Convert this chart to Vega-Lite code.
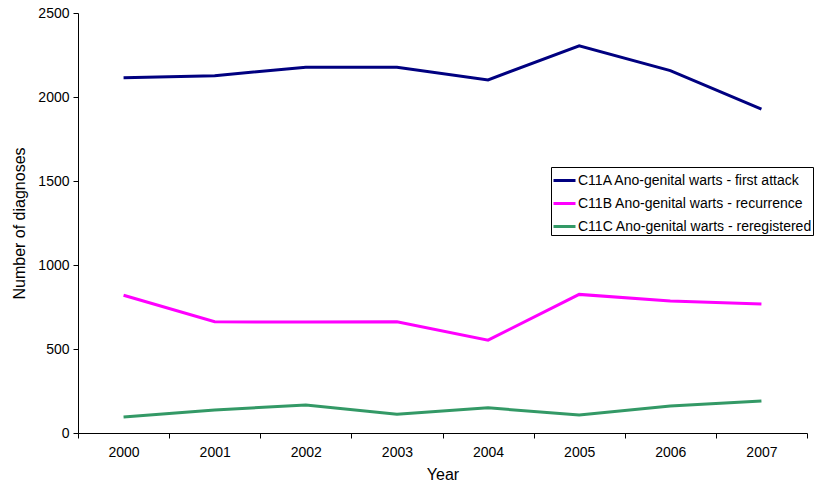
{
  "$schema": "https://vega.github.io/schema/vega-lite/v6.json",
  "width": 729,
  "height": 420,
  "autosize": "none",
  "padding": {"left": 78, "top": 13, "right": 10, "bottom": 53},
  "background": "white",
  "config": {
    "font": "Liberation Sans",
    "view": {"stroke": null},
    "axis": {"labelFont": "Liberation Sans", "titleFont": "Liberation Sans", "labelFontSize": 14, "titleFontSize": 16, "titleFontWeight": "normal", "labelColor": "#000", "titleColor": "#000", "domainColor": "#000", "tickColor": "#000", "grid": false, "tickSize": 5}
  },
  "data": {"values": [
    {"year": "2000", "series": "C11A Ano-genital warts - first attack", "value": 2115},
    {"year": "2001", "series": "C11A Ano-genital warts - first attack", "value": 2127},
    {"year": "2002", "series": "C11A Ano-genital warts - first attack", "value": 2177},
    {"year": "2003", "series": "C11A Ano-genital warts - first attack", "value": 2177},
    {"year": "2004", "series": "C11A Ano-genital warts - first attack", "value": 2102},
    {"year": "2005", "series": "C11A Ano-genital warts - first attack", "value": 2305},
    {"year": "2006", "series": "C11A Ano-genital warts - first attack", "value": 2157},
    {"year": "2007", "series": "C11A Ano-genital warts - first attack", "value": 1928},
    {"year": "2000", "series": "C11B Ano-genital warts - recurrence", "value": 820},
    {"year": "2001", "series": "C11B Ano-genital warts - recurrence", "value": 662},
    {"year": "2002", "series": "C11B Ano-genital warts - recurrence", "value": 660},
    {"year": "2003", "series": "C11B Ano-genital warts - recurrence", "value": 662},
    {"year": "2004", "series": "C11B Ano-genital warts - recurrence", "value": 553},
    {"year": "2005", "series": "C11B Ano-genital warts - recurrence", "value": 825},
    {"year": "2006", "series": "C11B Ano-genital warts - recurrence", "value": 786},
    {"year": "2007", "series": "C11B Ano-genital warts - recurrence", "value": 768},
    {"year": "2000", "series": "C11C Ano-genital warts - reregistered", "value": 95},
    {"year": "2001", "series": "C11C Ano-genital warts - reregistered", "value": 137},
    {"year": "2002", "series": "C11C Ano-genital warts - reregistered", "value": 167},
    {"year": "2003", "series": "C11C Ano-genital warts - reregistered", "value": 112},
    {"year": "2004", "series": "C11C Ano-genital warts - reregistered", "value": 150},
    {"year": "2005", "series": "C11C Ano-genital warts - reregistered", "value": 107},
    {"year": "2006", "series": "C11C Ano-genital warts - reregistered", "value": 160},
    {"year": "2007", "series": "C11C Ano-genital warts - reregistered", "value": 190}
  ]},
  "mark": {"type": "line", "strokeWidth": 3},
  "encoding": {
    "x": {"field": "year", "type": "ordinal", "title": "Year",
      "scale": {"type": "band", "paddingInner": 0, "paddingOuter": 0},
      "axis": {"labelAngle": 0, "tickBand": "extent", "labelPadding": 7, "titlePadding": 7}},
    "y": {"field": "value", "type": "quantitative", "title": "Number of diagnoses",
      "scale": {"domain": [0, 2500], "nice": false},
      "axis": {"values": [0, 500, 1000, 1500, 2000, 2500], "format": "d", "labelPadding": 4, "titlePadding": 10}},
    "color": {"field": "series", "type": "nominal", "title": null,
      "scale": {"range": ["#000080", "#FF00FF", "#339966"]},
      "legend": {"orient": "none", "legendX": 473, "legendY": 154, "symbolType": "stroke", "symbolSize": 484, "symbolStrokeWidth": 3, "labelFontSize": 14, "labelColor": "#000", "labelFont": "Liberation Sans", "labelOffset": 1, "strokeColor": "#000", "padding": 1, "rowPadding": 3, "fillColor": "white", "labelLimit": 400}}
  }
}
